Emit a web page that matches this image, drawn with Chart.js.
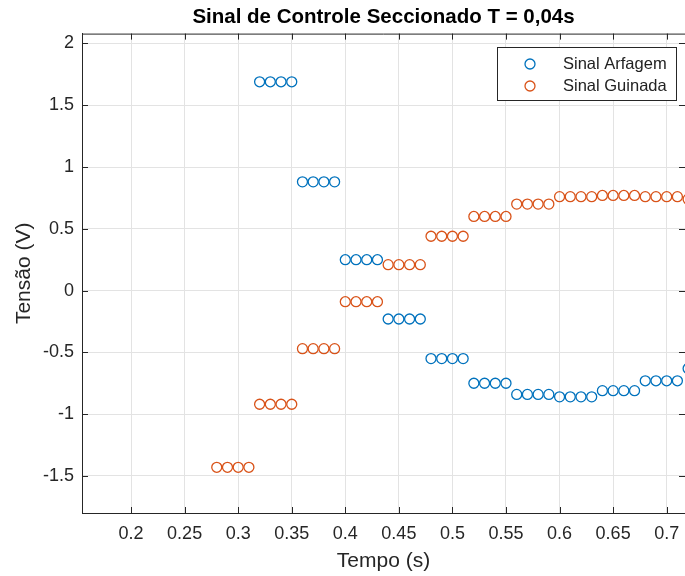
<!DOCTYPE html>
<html>
<head>
<meta charset="utf-8">
<script src="https://cdn.jsdelivr.net/npm/chart.js@4"></script>
<style>
    body { margin: 0; background: #fff; }
    canvas { display: block; }
</style>
</head>
<body>
<canvas id="myChart" width="685" height="576"></canvas>
<script>
'use strict'

// tempos de amostragem (s)
const tempoArfagem = [0.32, 0.33, 0.34, 0.35, 0.36, 0.37, 0.38, 0.39, 0.40, 0.41, 0.42, 0.43,
    0.44, 0.45, 0.46, 0.47, 0.48, 0.49, 0.50, 0.51, 0.52, 0.53, 0.54, 0.55, 0.56, 0.57, 0.58, 0.59,
    0.60, 0.61, 0.62, 0.63, 0.64, 0.65, 0.66, 0.67, 0.68, 0.69, 0.70, 0.71, 0.72]
const tempoGuinada = [0.28, 0.29, 0.30, 0.31, 0.32, 0.33, 0.34, 0.35, 0.36, 0.37, 0.38, 0.39,
    0.40, 0.41, 0.42, 0.43, 0.44, 0.45, 0.46, 0.47, 0.48, 0.49, 0.50, 0.51, 0.52, 0.53, 0.54, 0.55,
    0.56, 0.57, 0.58, 0.59, 0.60, 0.61, 0.62, 0.63, 0.64, 0.65, 0.66, 0.67, 0.68, 0.69, 0.70, 0.71, 0.72]

// tensões (V), seguradas por 0,04 s
const sinalArfagem = [1.69, 1.69, 1.69, 1.69, 0.88, 0.88, 0.88, 0.88, 0.25, 0.25, 0.25, 0.25,
    -0.23, -0.23, -0.23, -0.23, -0.55, -0.55, -0.55, -0.55, -0.75, -0.75, -0.75, -0.75,
    -0.84, -0.84, -0.84, -0.84, -0.86, -0.86, -0.86, -0.86, -0.81, -0.81, -0.81, -0.81,
    -0.73, -0.73, -0.73, -0.73, -0.63]
const sinalGuinada = [-1.43, -1.43, -1.43, -1.43, -0.92, -0.92, -0.92, -0.92, -0.47, -0.47, -0.47, -0.47,
    -0.09, -0.09, -0.09, -0.09, 0.21, 0.21, 0.21, 0.21, 0.44, 0.44, 0.44, 0.44,
    0.60, 0.60, 0.60, 0.60, 0.70, 0.70, 0.70, 0.70, 0.76, 0.76, 0.76, 0.76,
    0.77, 0.77, 0.77, 0.77, 0.76, 0.76, 0.76, 0.76, 0.74]

const xTicks = [0.2, 0.25, 0.3, 0.35, 0.4, 0.45, 0.5, 0.55, 0.6, 0.65, 0.7]
const yTicks = [-1.5, -1, -0.5, 0, 0.5, 1, 1.5, 2]

const AXIS_COLOR = '#262626'
const GRID_COLOR = '#e3e3e3'
const FONT = 'Liberation Sans, Arial, Helvetica, sans-serif'

function toPoints(xs, ys) {
    return xs.map((x, idx) => ({ x, y: ys[idx] }))
}

// ticks para dentro e caixa (estilo MATLAB)
const boxPlugin = {
    id: 'boxTicks',
    afterDraw(chart) {
        const ctx = chart.ctx
        const area = chart.chartArea
        const xScale = chart.scales.x
        const yScale = chart.scales.y
        const len = 6
        ctx.save()
        ctx.strokeStyle = AXIS_COLOR
        ctx.lineWidth = 1
        ctx.beginPath()
        ctx.moveTo(area.left, area.top + 0.5)
        ctx.lineTo(area.right, area.top + 0.5)
        xScale.ticks.forEach(tick => {
            const x = Math.round(xScale.getPixelForValue(tick.value)) + 0.5
            ctx.moveTo(x, area.bottom)
            ctx.lineTo(x, area.bottom - len)
            ctx.moveTo(x, area.top)
            ctx.lineTo(x, area.top + len)
        })
        yScale.ticks.forEach(tick => {
            const y = Math.round(yScale.getPixelForValue(tick.value)) + 0.5
            ctx.moveTo(area.left, y)
            ctx.lineTo(area.left + len, y)
            ctx.moveTo(area.right, y)
            ctx.lineTo(area.right - len, y)
        })
        ctx.stroke()
        ctx.restore()
    }
}

// legenda com moldura no canto superior direito
const legendBoxPlugin = {
    id: 'legendBox',
    afterDraw(chart) {
        const ctx = chart.ctx
        const left = 497
        const top = 47
        const width = 179
        const height = 53
        ctx.save()
        ctx.fillStyle = '#fff'
        ctx.fillRect(left, top, width, height)
        ctx.strokeStyle = AXIS_COLOR
        ctx.lineWidth = 1
        ctx.strokeRect(left + 0.5, top + 0.5, width, height)
        ctx.font = '16.5px ' + FONT
        ctx.textBaseline = 'middle'
        chart.data.datasets.forEach((ds, idx) => {
            const y = top + 17 + idx * 22
            ctx.beginPath()
            ctx.arc(left + 33, y, 5, 0, Math.PI * 2)
            ctx.strokeStyle = ds.borderColor
            ctx.lineWidth = 1.3
            ctx.stroke()
            ctx.fillStyle = '#222'
            ctx.fillText(ds.label, left + 66, y)
        })
        ctx.restore()
    }
}

function renderChart() {
    const ctx = document.getElementById('myChart')
    new Chart(ctx, {
        type: 'scatter',
        data: {
            datasets: [{
                label: 'Sinal Arfagem',
                data: toPoints(tempoArfagem, sinalArfagem),
                borderColor: '#0072BD',
                backgroundColor: 'transparent',
                pointRadius: 5,
                pointBorderWidth: 1.3,
                clip: 0
            }, {
                label: 'Sinal Guinada',
                data: toPoints(tempoGuinada, sinalGuinada),
                borderColor: '#D95319',
                backgroundColor: 'transparent',
                pointRadius: 5,
                pointBorderWidth: 1.3,
                clip: 0
            }]
        },
        options: {
            responsive: false,
            animation: false,
            layout: { padding: 0, autoPadding: false },
            plugins: {
                legend: { display: false },
                tooltip: { enabled: false },
                title: {
                    display: true,
                    fullSize: false,
                    text: 'Sinal de Controle Seccionado T = 0,04s',
                    color: '#000',
                    font: { family: FONT, size: 20.5, weight: 'bold' },
                    padding: { top: 5, bottom: 4 }
                }
            },
            scales: {
                x: {
                    type: 'linear',
                    min: 0.1542,
                    max: 0.7171,
                    afterBuildTicks: scale => { scale.ticks = xTicks.map(value => ({ value })) },
                    afterFit: scale => {
                        scale.height = 63
                        scale.paddingLeft = 0
                        scale.paddingRight = 0
                    },
                    grid: { color: GRID_COLOR, drawTicks: false },
                    border: { color: AXIS_COLOR },
                    ticks: {
                        color: '#262626',
                        font: { family: FONT, size: 18 },
                        padding: 10,
                        maxRotation: 0,
                        autoSkip: false,
                        callback: value => String(value)
                    },
                    title: {
                        display: true,
                        text: 'Tempo (s)',
                        color: '#262626',
                        font: { family: FONT, size: 21 },
                        padding: { top: 0, bottom: 2 }
                    }
                },
                y: {
                    type: 'linear',
                    min: -1.8,
                    max: 2.08,
                    afterBuildTicks: scale => { scale.ticks = yTicks.map(value => ({ value })) },
                    afterFit: scale => {
                        scale.width = 82
                        scale.paddingTop = 0
                        scale.paddingBottom = 0
                    },
                    grid: { color: GRID_COLOR, drawTicks: false },
                    border: { color: AXIS_COLOR },
                    ticks: {
                        color: '#262626',
                        font: { family: FONT, size: 18 },
                        padding: 8,
                        autoSkip: false,
                        callback: value => String(value)
                    },
                    title: {
                        display: true,
                        text: 'Tensão (V)',
                        color: '#262626',
                        font: { family: FONT, size: 21 },
                        padding: { top: 12, bottom: 0 }
                    }
                }
            }
        },
        plugins: [boxPlugin, legendBoxPlugin]
    })
}

renderChart()
</script>
</body>
</html>
